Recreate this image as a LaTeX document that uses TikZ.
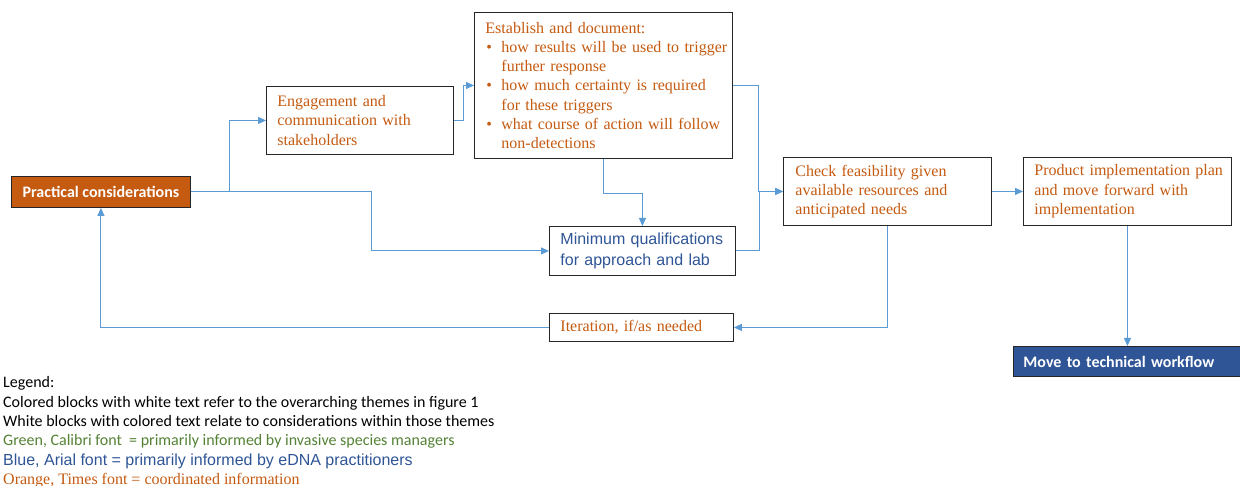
\documentclass[tikz,border=0pt]{standalone}
\usepackage{fontspec}
\setmainfont{Liberation Serif}
\newfontfamily\arialfont{Liberation Sans}
\newfontfamily\calibrifont{Carlito}
\usetikzlibrary{arrows.meta}

\definecolor{themeorange}{HTML}{C55A11}
\definecolor{themeblue}{HTML}{2F5597}
\definecolor{linkblue}{HTML}{5B9BD5}
\definecolor{legendgreen}{HTML}{548235}

\hyphenpenalty=10000
\newcommand{\bulletline}[1]{\mbox{\makebox[16pt][l]{\hspace{1pt}\textbullet}#1}}
\newcommand{\contline}[1]{\mbox{\hspace*{16pt}#1}}

\begin{document}
\begin{tikzpicture}[
        x=1pt, y=-1pt,
        box/.style={rectangle, draw=black!85, line width=0.9pt, fill=white, anchor=north west, align=left, inner xsep=11pt, inner ysep=0pt},
        timesbox/.style={box, font=\fontsize{16}{19.3}\selectfont, text=themeorange},
        arialbox/.style={box, font=\arialfont\fontsize{16}{21}\selectfont, text=themeblue},
        themebox/.style={rectangle, draw=black!85, line width=0.9pt, anchor=north west, inner ysep=0pt, text=white, font=\calibrifont\bfseries\fontsize{16}{19}\selectfont},
        legend/.style={anchor=base west, inner sep=0pt},
        arrow/.style={-{Triangle[length=8pt,width=7pt]}, draw=linkblue, line width=1pt}
    ]
    \useasboundingbox (0,0) rectangle (1240,486);
    % Nodes
    \node[themebox, fill=themeorange, minimum width=179pt, minimum height=31pt, align=center] (practical) at (11,176) {Practical considerations};
    \node[timesbox, text width=165pt, minimum height=68pt] (engage) at (266,86) {Engagement and\\communication with\\stakeholders};
    \node[timesbox, text width=236pt, minimum height=146pt] (establish) at (474,12) {Establish and document:\\
        \bulletline{how results will be used to trigger}\\
        \contline{further response}\\
        \bulletline{how much certainty is required}\\
        \contline{for these triggers}\\
        \bulletline{what course of action will follow}\\
        \contline{non-detections}};
    \node[arialbox, text width=164pt, minimum height=49pt] (minq) at (549,226) {Minimum qualifications\\for approach and lab};
    \node[timesbox, inner xsep=12pt, text width=184pt, minimum height=68pt] (check) at (783,157) {Check feasibility given\\available resources and\\anticipated needs};
    \node[timesbox, text width=186pt, minimum height=68pt] (product) at (1023,157) {\mbox{Product implementation plan}\\and move forward with\\implementation};
    \node[timesbox, text width=162pt, minimum height=28pt] (iteration) at (549,313) {Iteration, if/as needed};
    \node[themebox, fill=themeblue, inner xsep=10pt, text width=209pt, minimum height=30pt, align=left] (move) at (1013,346) {Move to technical workflow};
    % Legend
    \node[legend, font=\calibrifont\fontsize{16}{19}\selectfont] (legend1) at (3,388) {Legend:};
    \node[legend, font=\calibrifont\fontsize{16}{19}\selectfont] (legend2) at (3,407) {Colored blocks with white text refer to the overarching themes in figure 1};
    \node[legend, font=\calibrifont\fontsize{16}{19}\selectfont] (legend3) at (3,426) {White blocks with colored text relate to considerations within those themes};
    \node[legend, font=\calibrifont\fontsize{16}{19}\selectfont, text=legendgreen] (legend4) at (3,445) {Green, Calibri font\ \ = primarily informed by invasive species managers};
    \node[legend, font=\arialfont\fontsize{16}{19}\selectfont, text=themeblue] (legend5) at (3,465) {Blue, Arial font = primarily informed by eDNA practitioners};
    \node[legend, font=\fontsize{16}{19}\selectfont, text=themeorange] (legend6) at (3,484) {Orange, Times font = coordinated information};
    % Arrows
    \draw[arrow] (practical.east) -- ++(39,0) |- (engage.west);
    \draw[arrow] (practical.east) -- ++(181,0) |- (minq.west);
    \draw[arrow] (engage.east) -- ++(10,0) |- (establish.west);
    \draw[arrow] (establish.south) -- ++(0,35) -| (minq.north);
    \draw[arrow] (establish.east) -- ++(26,0) |- (check.west);
    \draw[arrow] (minq.east) -- ++(24,0) |- (check.west);
    \draw[arrow] (check.east) -- (product.west);
    \draw[arrow] (check.south) |- (iteration.east);
    \draw[arrow] (iteration.west) -| (practical.south);
    \draw[arrow] (product.south) -- (product.south |- move.north);
\end{tikzpicture}
\end{document}
